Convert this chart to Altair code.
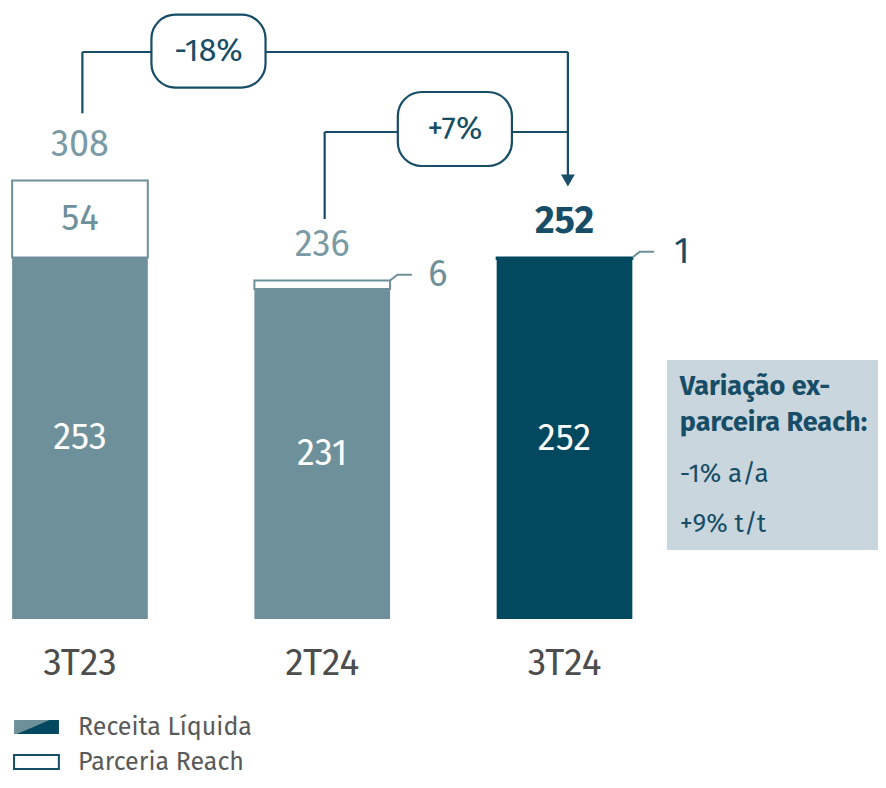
import altair as alt
import pandas as pd

# ---------------- data ----------------
categories = ["3T23", "2T24", "3T24"]
receita = [253, 231, 252]
reach = [54, 6, 1]
total_labels = ["308", "236", "252"]
variations = ["-18%", "+7%"]
box_title = ["Variação ex-", "parceira Reach:"]
box_lines = ["-1% a/a", "+9% t/t"]
legend_labels = ["Receita Líquida", "Parceria Reach"]

# ---------------- style ----------------
FONT = "Fira Sans, Noto Sans, sans-serif"
LIGHT = "#6E909B"
LIGHT_TXT = "#7A9AA5"
DARK = "#02485F"
NAVY = "#174D66"
GRAY = "#4D4D4D"
BOX = "#C9D6DD"
HALF = 0.28  # half bar width in x units
VAL_FS = 36

xpos = list(range(len(categories)))
tops = [r + p for r, p in zip(receita, reach)]

xs = alt.Scale(domain=[-0.297, 3.294], nice=False, zero=False)
ys = alt.Scale(domain=[-112.7, 427.7], nice=False, zero=False)
X = lambda f="x": alt.X(f"{f}:Q", scale=xs, axis=None)
Y = lambda f="y": alt.Y(f"{f}:Q", scale=ys, axis=None)

# bars
bars_df = pd.DataFrame({
    "cat": categories, "x": [p - HALF for p in xpos], "x2": [p + HALF for p in xpos],
    "y": [0] * 3, "y2": receita, "top": tops,
    "color": [LIGHT, LIGHT, DARK],
    "rfill": ["white", "white", DARK],
    "rstroke": [LIGHT, LIGHT, DARK],
})
receita_bars = alt.Chart(bars_df).mark_bar().encode(
    x=X(), x2="x2:Q", y=Y(), y2="y2:Q",
    color=alt.Color("color:N", scale=None),
)
reach_bars = alt.Chart(bars_df).mark_bar(strokeWidth=2).encode(
    x=X(), x2="x2:Q", y=Y("y2"), y2="top:Q",
    fill=alt.Fill("rfill:N", scale=None),
    stroke=alt.Stroke("rstroke:N", scale=None),
)

# inner labels
inner_df = pd.DataFrame({"x": xpos, "y": [r / 2 for r in receita], "t": [str(r) for r in receita]})
inner = alt.Chart(inner_df).mark_text(font=FONT, fontSize=VAL_FS, color="white", baseline="middle").encode(
    x=X(), y=Y(), text="t:N")

reach_in_df = pd.DataFrame({"x": [xpos[0]], "y": [receita[0] + reach[0] / 2], "t": [str(reach[0])]})
reach_in = alt.Chart(reach_in_df).mark_text(font=FONT, fontSize=VAL_FS, color=LIGHT, baseline="middle").encode(
    x=X(), y=Y(), text="t:N")

# total labels
tot_df = pd.DataFrame({"x": xpos, "y": [t + 25 for t in tops], "t": total_labels})
tot_light = alt.Chart(tot_df.iloc[:2]).mark_text(font=FONT, fontSize=VAL_FS, color=LIGHT_TXT, baseline="middle").encode(
    x=X(), y=Y(), text="t:N")
tot_dark = alt.Chart(tot_df.iloc[2:]).mark_text(font=FONT, fontSize=38, color=NAVY, fontWeight="bold", baseline="middle").encode(
    x=X(), y=Y(), text="t:N")

# outside reach labels with connectors
conn_rows = []
for i in (1, 2):
    x0 = xpos[i] + HALF
    conn_rows += [
        {"g": i, "o": 0, "x": x0, "y": tops[i]},
        {"g": i, "o": 1, "x": x0 + 0.03, "y": tops[i] + 4},
        {"g": i, "o": 2, "x": x0 + 0.09, "y": tops[i] + 4},
    ]
conn = alt.Chart(pd.DataFrame(conn_rows)).mark_line(color=LIGHT, strokeWidth=2).encode(
    x=X(), y=Y(), detail="g:N", order="o:Q")
out_df = pd.DataFrame({"x": [xpos[1] + HALF + 0.197, xpos[2] + HALF + 0.204],
                       "y": [tops[1] + 4, tops[2] + 4], "t": [str(reach[1]), str(reach[2])]})
out6 = alt.Chart(out_df.iloc[:1]).mark_text(font=FONT, fontSize=VAL_FS, color=LIGHT, baseline="middle").encode(
    x=X(), y=Y(), text="t:N")
out1 = alt.Chart(out_df.iloc[1:]).mark_text(font=FONT, fontSize=VAL_FS, color=NAVY, baseline="middle").encode(
    x=X(), y=Y(), text="t:N")

# category labels
cat_df = pd.DataFrame({"x": xpos, "y": [-31.5] * 3, "t": categories})
cats = alt.Chart(cat_df).mark_text(font=FONT, fontSize=37, color=GRAY, baseline="middle").encode(
    x=X(), y=Y(), text="t:N")

# brackets
arrow_x = xpos[2] + 0.014
seg = pd.DataFrame([
    {"x": xpos[0] + 0.01, "y": tops[0] + 47, "x2": xpos[0] + 0.01, "y2": 396.9},
    {"x": xpos[0] + 0.01, "y": 396.9, "x2": arrow_x, "y2": 396.9},
    {"x": arrow_x, "y": 396.9, "x2": arrow_x, "y2": 310},
    {"x": xpos[1] + 0.01, "y": tops[1] + 43, "x2": xpos[1] + 0.01, "y2": 340.9},
    {"x": xpos[1] + 0.01, "y": 340.9, "x2": arrow_x, "y2": 340.9},
])
rules = alt.Chart(seg).mark_rule(color=NAVY, strokeWidth=2.2).encode(x=X(), y=Y(), x2="x2:Q", y2="y2:Q")
arrow = alt.Chart(pd.DataFrame({"x": [arrow_x], "y": [307.0]})).mark_point(
    shape="triangle-down", filled=True, color=NAVY, size=190, opacity=1).encode(x=X(), y=Y())

pill_df = pd.DataFrame({
    "x": [0.295, 1.312], "x2": [0.766, 1.783],
    "y": [423.0, 368.9], "y2": [372.0, 317.1], "t": variations,
})
pill_df["cx"] = (pill_df["x"] + pill_df["x2"]) / 2
pill_df["cy"] = (pill_df["y"] + pill_df["y2"]) / 2
pills = alt.Chart(pill_df).mark_rect(fill="white", stroke=NAVY, strokeWidth=2.2, cornerRadius=24).encode(
    x=X(), x2="x2:Q", y=Y(), y2="y2:Q")
pill_txt = alt.Chart(pill_df).mark_text(font=FONT, fontSize=32, color=NAVY, baseline="middle").encode(
    x=X("cx"), y=Y("cy"), text="t:N")

# side box
box = alt.Chart(pd.DataFrame({"x": [2.423], "x2": [3.294], "y": [181.3], "y2": [48.3]})).mark_rect(
    fill=BOX).encode(x=X(), x2="x2:Q", y=Y(), y2="y2:Q")
bt_df = pd.DataFrame({"x": [2.476] * 2, "y": [162.4, 137.2], "t": box_title})
box_t = alt.Chart(bt_df).mark_text(font=FONT, fontSize=27, fontWeight="bold", color=NAVY,
                                   align="left", baseline="middle").encode(x=X(), y=Y(), text="t:N")
bl_df = pd.DataFrame({"x": [2.476] * 2, "y": [101.5, 66.5], "t": box_lines})
box_l = alt.Chart(bl_df).mark_text(font=FONT, fontSize=26, color=NAVY,
                                   align="left", baseline="middle").encode(x=X(), y=Y(), text="t:N")

# legend
sw1 = alt.Chart(pd.DataFrame({"x": [-0.272], "x2": [-0.087], "y": [-70.7], "y2": [-80.5]})).mark_rect(
    fill=LIGHT).encode(x=X(), x2="x2:Q", y=Y(), y2="y2:Q")
tri = alt.Chart(pd.DataFrame({"x": [-0.26, -0.125, -0.087], "y": [-80.5, -70.7, -70.7],
                              "y2": [-80.5, -80.5, -80.5]})).mark_area(color=DARK, opacity=1).encode(
    x=X(), y=Y(), y2="y2:Q")
sw2 = alt.Chart(pd.DataFrame({"x": [-0.272], "x2": [-0.087], "y": [-95.2], "y2": [-105.0]})).mark_rect(
    fill="white", stroke=NAVY, strokeWidth=2).encode(x=X(), x2="x2:Q", y=Y(), y2="y2:Q")
lg_df = pd.DataFrame({"x": [-0.008] * 2, "y": [-75.6, -100.1], "t": legend_labels})
lg = alt.Chart(lg_df).mark_text(font=FONT, fontSize=25, color="#5A5A5A", align="left", baseline="middle").encode(
    x=X(), y=Y(), text="t:N")

chart = alt.layer(
    receita_bars, reach_bars, inner, reach_in, tot_light, tot_dark, conn, out6, out1, cats,
    rules, arrow, pills, pill_txt, box, box_t, box_l, sw1, tri, sw2, lg,
).properties(
    width=870, height=772, padding=0, autosize=alt.AutoSizeParams(type="none"),
).configure_view(stroke=None)

chart.save("out.html", embed_options={"renderer": "svg", "actions": False})
